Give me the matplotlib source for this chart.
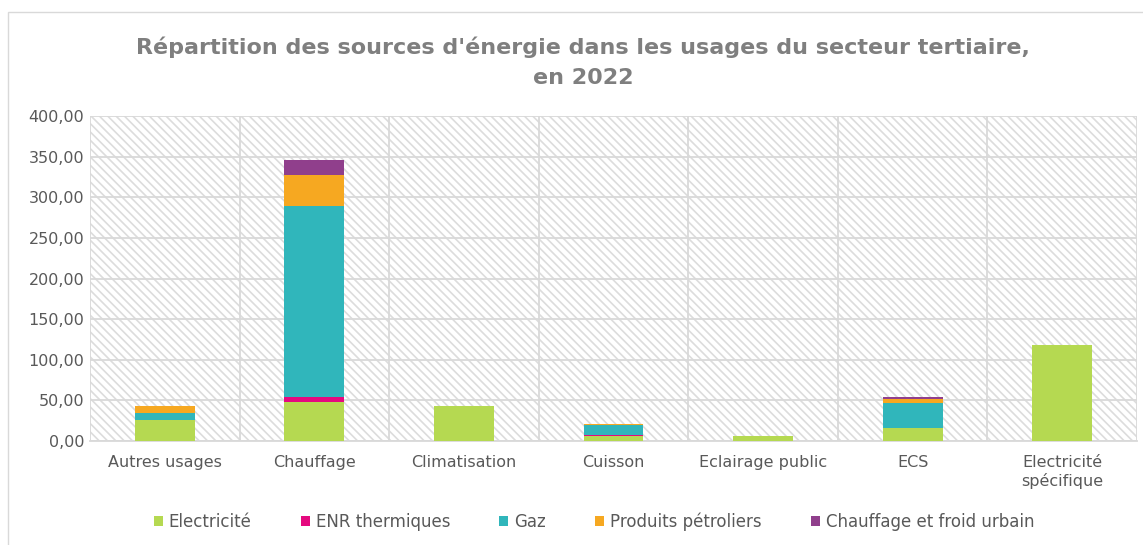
import matplotlib
matplotlib.use("Agg")
import matplotlib.pyplot as plt
from matplotlib.patches import Rectangle
import numpy as np

categories = ["Autres usages", "Chauffage", "Climatisation", "Cuisson",
              "Eclairage public", "ECS", "Electricité\nspécifique"]
series_names = ["Electricité", "ENR thermiques", "Gaz", "Produits pétroliers",
                "Chauffage et froid urbain"]
electricite = [26.0, 48.5, 43.0, 6.0, 6.5, 16.0, 118.0]
enr_thermiques = [0.0, 6.0, 0.0, 0.8, 0.0, 0.0, 0.0]
gaz = [8.5, 235.0, 0.0, 12.5, 0.0, 30.5, 0.0]
produits_petroliers = [8.0, 38.0, 0.0, 1.5, 0.0, 5.3, 0.0]
chauffage_urbain = [0.0, 18.5, 0.0, 0.0, 0.0, 2.3, 0.0]
colors = ["#b5d951", "#e5097f", "#30b6bb", "#f6a821", "#903f8c"]
yticks = [0, 50, 100, 150, 200, 250, 300, 350, 400]

plt.rcParams['font.family'] = ['DejaVu Sans']
plt.rcParams['hatch.linewidth'] = 1.2
plt.rcParams['hatch.color'] = '#dcdcdc'

fig = plt.figure(figsize=(11.43, 5.45), dpi=100)
ax = fig.add_axes([0.0787, 0.1908, 0.9161, 0.5962])

# hatched background
bg = Rectangle((0, 0), 1, 1, transform=ax.transAxes, facecolor='white',
               edgecolor='#dcdcdc', hatch='\\\\\\\\', linewidth=0, zorder=0)
ax.add_patch(bg)

x = np.arange(len(categories))
data = [electricite, enr_thermiques, gaz, produits_petroliers, chauffage_urbain]
bottom = np.zeros(len(categories))
handles = []
for name, vals, c in zip(series_names, data, colors):
    vals = np.array(vals)
    h = ax.bar(x, vals, 0.4, bottom=bottom, color=c, label=name, zorder=3, linewidth=0)
    handles.append(h)
    bottom += vals

ax.set_xlim(-0.5, len(categories) - 0.5)
ax.set_ylim(0, 400)
ax.set_yticks(yticks)
ax.set_yticklabels([f"{v:.2f}".replace('.', ',') for v in yticks])
ax.set_xticks(x)
ax.set_xticklabels(categories)
ax.set_xticks(np.arange(-0.5, len(categories), 1), minor=True)
ax.grid(axis='y', which='major', color='#d9d9d9', linewidth=1.3, zorder=1)
ax.grid(axis='x', which='minor', color='#d9d9d9', linewidth=1.3, zorder=1)
ax.grid(axis='x', which='major', visible=False)
ax.tick_params(axis='both', which='both', length=0, colors='#595959', labelsize=11.5)
ax.tick_params(axis='x', pad=10)
ax.tick_params(axis='y', pad=4)
for s in ['top', 'right', 'left']:
    ax.spines[s].set_visible(False)
ax.spines['bottom'].set_color('#d9d9d9')
ax.spines['bottom'].set_linewidth(1.3)
ax.set_axisbelow(True)

fig.text(583 / 1143, 1 - 62 / 545,
         "Répartition des sources d'énergie dans les usages du secteur tertiaire,\nen 2022",
         ha='center', va='center', fontsize=16, fontweight='bold', color='#7f7f7f',
         linespacing=1.6)

leg = fig.legend(handles=handles, labels=series_names, loc='center', ncol=5,
                 bbox_to_anchor=(594 / 1143, 1 - 522 / 545), frameon=False, fontsize=12,
                 handlelength=0.55, handleheight=0.55, handletextpad=0.35,
                 columnspacing=2.95)
for t in leg.get_texts():
    t.set_color('#595959')

# outer chart border
fig.add_artist(Rectangle((8 / 1143, -0.01), 1.2, 1.0 - 12 / 545 + 0.01,
                         transform=fig.transFigure, facecolor='none',
                         edgecolor='#d9d9d9', linewidth=1.0))

fig.savefig("out.png", dpi=100)
